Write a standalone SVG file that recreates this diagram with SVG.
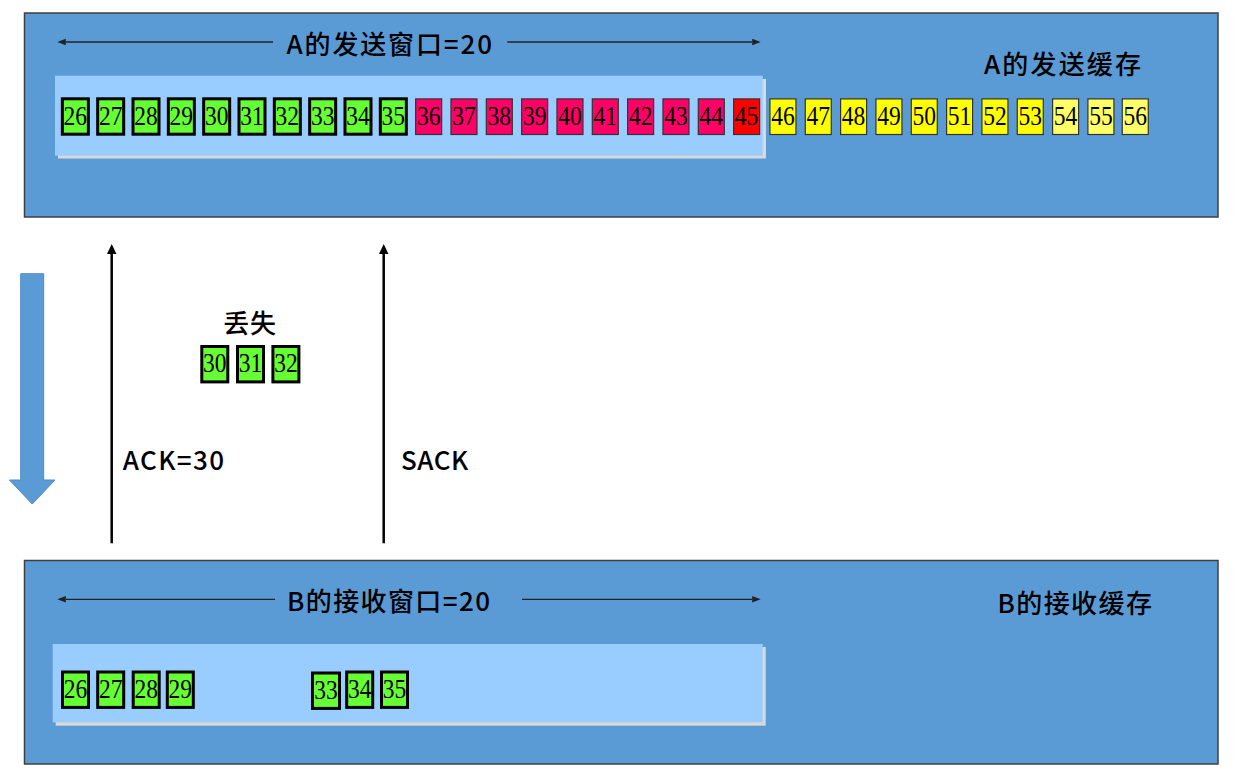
<svg xmlns="http://www.w3.org/2000/svg" width="1241" height="774" viewBox="0 0 1241 774">
<style>
.outer{fill:#5b9bd5;stroke:#3f3f3f;stroke-width:1.5}
.inner{fill:#99ccff}
.shadow{fill:#d9d9d9}
.g rect{fill:#66ff33;stroke:#000;stroke-width:3}
.p rect{fill:#ff0066;stroke:#333;stroke-width:1.2}
.r rect{fill:#ff0000;stroke:#333;stroke-width:1.2}
.y rect{fill:#ffff00;stroke:#333;stroke-width:1.2}
.ly rect{fill:#ffff66;stroke:#333;stroke-width:1.2}
.num{font-family:"Liberation Serif","Times New Roman",serif;font-size:27px;fill:#000;text-anchor:middle}
.lbl{font-family:"Noto Sans CJK SC","Noto Sans",sans-serif;font-size:26px;font-weight:500;fill:#000}
.thin{stroke:#222;stroke-width:1.3;fill:none}
.thick{stroke:#000;stroke-width:2.5;fill:none}
</style>
<defs>
<marker id="ah" markerUnits="userSpaceOnUse" markerWidth="9" markerHeight="7" refX="0" refY="3.25" orient="auto">
<path d="M0,0 L8.5,3.25 L0,6.5 z" fill="#222"/>
</marker>
<marker id="ahb" markerUnits="userSpaceOnUse" markerWidth="11" markerHeight="10" refX="0" refY="4.75" orient="auto">
<path d="M0,0 L10,4.75 L0,9.5 z" fill="#000"/>
</marker>
</defs>
<rect width="1241" height="774" fill="#ffffff"/>

<g id="bufferA">
<rect class="outer" x="24.5" y="13" width="1193.5" height="204"/>
<rect class="shadow" x="58" y="79" width="708" height="79.5"/>
<rect class="inner" x="55" y="75.7" width="707.7" height="80"/>
<text class="lbl" x="286.5" y="53.5" textLength="205.5" lengthAdjust="spacing">A的发送窗口=20</text>
<text class="lbl" x="984" y="73.5" textLength="157" lengthAdjust="spacing">A的发送缓存</text>
</g>

<g id="segA">
<g id="a26" class="g"><rect x="62.35" y="98.8" width="26" height="35.4"/><text class="num" x="75.35" y="125" textLength="23.5" lengthAdjust="spacingAndGlyphs">26</text></g>
<g id="a27" class="g"><rect x="97.68" y="98.8" width="26" height="35.4"/><text class="num" x="110.68" y="125" textLength="23.5" lengthAdjust="spacingAndGlyphs">27</text></g>
<g id="a28" class="g"><rect x="133.01" y="98.8" width="26" height="35.4"/><text class="num" x="146.01" y="125" textLength="23.5" lengthAdjust="spacingAndGlyphs">28</text></g>
<g id="a29" class="g"><rect x="168.34" y="98.8" width="26" height="35.4"/><text class="num" x="181.34" y="125" textLength="23.5" lengthAdjust="spacingAndGlyphs">29</text></g>
<g id="a30" class="g"><rect x="203.67" y="98.8" width="26" height="35.4"/><text class="num" x="216.67" y="125" textLength="23.5" lengthAdjust="spacingAndGlyphs">30</text></g>
<g id="a31" class="g"><rect x="239" y="98.8" width="26" height="35.4"/><text class="num" x="252" y="125" textLength="23.5" lengthAdjust="spacingAndGlyphs">31</text></g>
<g id="a32" class="g"><rect x="274.33" y="98.8" width="26" height="35.4"/><text class="num" x="287.33" y="125" textLength="23.5" lengthAdjust="spacingAndGlyphs">32</text></g>
<g id="a33" class="g"><rect x="309.66" y="98.8" width="26" height="35.4"/><text class="num" x="322.66" y="125" textLength="23.5" lengthAdjust="spacingAndGlyphs">33</text></g>
<g id="a34" class="g"><rect x="344.99" y="98.8" width="26" height="35.4"/><text class="num" x="357.99" y="125" textLength="23.5" lengthAdjust="spacingAndGlyphs">34</text></g>
<g id="a35" class="g"><rect x="380.32" y="98.8" width="26" height="35.4"/><text class="num" x="393.32" y="125" textLength="23.5" lengthAdjust="spacingAndGlyphs">35</text></g>
<g id="a36" class="p"><rect x="415.65" y="98.9" width="26" height="35.6"/><text class="num" x="428.65" y="125" textLength="23.5" lengthAdjust="spacingAndGlyphs">36</text></g>
<g id="a37" class="p"><rect x="450.98" y="98.9" width="26" height="35.6"/><text class="num" x="463.98" y="125" textLength="23.5" lengthAdjust="spacingAndGlyphs">37</text></g>
<g id="a38" class="p"><rect x="486.31" y="98.9" width="26" height="35.6"/><text class="num" x="499.31" y="125" textLength="23.5" lengthAdjust="spacingAndGlyphs">38</text></g>
<g id="a39" class="p"><rect x="521.64" y="98.9" width="26" height="35.6"/><text class="num" x="534.64" y="125" textLength="23.5" lengthAdjust="spacingAndGlyphs">39</text></g>
<g id="a40" class="p"><rect x="556.97" y="98.9" width="26" height="35.6"/><text class="num" x="569.97" y="125" textLength="23.5" lengthAdjust="spacingAndGlyphs">40</text></g>
<g id="a41" class="p"><rect x="592.3" y="98.9" width="26" height="35.6"/><text class="num" x="605.3" y="125" textLength="23.5" lengthAdjust="spacingAndGlyphs">41</text></g>
<g id="a42" class="p"><rect x="627.63" y="98.9" width="26" height="35.6"/><text class="num" x="640.63" y="125" textLength="23.5" lengthAdjust="spacingAndGlyphs">42</text></g>
<g id="a43" class="p"><rect x="662.96" y="98.9" width="26" height="35.6"/><text class="num" x="675.96" y="125" textLength="23.5" lengthAdjust="spacingAndGlyphs">43</text></g>
<g id="a44" class="p"><rect x="698.29" y="98.9" width="26" height="35.6"/><text class="num" x="711.29" y="125" textLength="23.5" lengthAdjust="spacingAndGlyphs">44</text></g>
<g id="a45" class="r"><rect x="733.62" y="98.9" width="26" height="35.6"/><text class="num" x="746.62" y="125" textLength="23.5" lengthAdjust="spacingAndGlyphs">45</text></g>
<g id="a46" class="y"><rect x="769.95" y="98.9" width="26" height="35.6"/><text class="num" x="782.95" y="125" textLength="23.5" lengthAdjust="spacingAndGlyphs">46</text></g>
<g id="a47" class="y"><rect x="805.28" y="98.9" width="26" height="35.6"/><text class="num" x="818.28" y="125" textLength="23.5" lengthAdjust="spacingAndGlyphs">47</text></g>
<g id="a48" class="y"><rect x="840.61" y="98.9" width="26" height="35.6"/><text class="num" x="853.61" y="125" textLength="23.5" lengthAdjust="spacingAndGlyphs">48</text></g>
<g id="a49" class="y"><rect x="875.94" y="98.9" width="26" height="35.6"/><text class="num" x="888.94" y="125" textLength="23.5" lengthAdjust="spacingAndGlyphs">49</text></g>
<g id="a50" class="y"><rect x="911.27" y="98.9" width="26" height="35.6"/><text class="num" x="924.27" y="125" textLength="23.5" lengthAdjust="spacingAndGlyphs">50</text></g>
<g id="a51" class="y"><rect x="946.6" y="98.9" width="26" height="35.6"/><text class="num" x="959.6" y="125" textLength="23.5" lengthAdjust="spacingAndGlyphs">51</text></g>
<g id="a52" class="y"><rect x="981.93" y="98.9" width="26" height="35.6"/><text class="num" x="994.93" y="125" textLength="23.5" lengthAdjust="spacingAndGlyphs">52</text></g>
<g id="a53" class="y"><rect x="1017.26" y="98.9" width="26" height="35.6"/><text class="num" x="1030.26" y="125" textLength="23.5" lengthAdjust="spacingAndGlyphs">53</text></g>
<g id="a54" class="ly"><rect x="1052.59" y="98.9" width="26" height="35.6"/><text class="num" x="1065.59" y="125" textLength="23.5" lengthAdjust="spacingAndGlyphs">54</text></g>
<g id="a55" class="ly"><rect x="1087.92" y="98.9" width="26" height="35.6"/><text class="num" x="1100.92" y="125" textLength="23.5" lengthAdjust="spacingAndGlyphs">55</text></g>
<g id="a56" class="ly"><rect x="1122.25" y="98.9" width="26" height="35.6"/><text class="num" x="1135.25" y="125" textLength="23.5" lengthAdjust="spacingAndGlyphs">56</text></g>
</g>

<g id="timeArrow">
<path d="M20.7,273.7 L43.7,273.7 L43.7,480 L55,480 L32.2,504 L9.4,480 L20.7,480 Z" fill="#5b9bd5" stroke="#4f8cc6" stroke-width="1"/>
</g>

<g id="lost">
<text class="lbl" x="223.3" y="333" textLength="52.7" lengthAdjust="spacing">丢失</text>
<g id="l30" class="g"><rect x="201.8" y="346.5" width="26" height="35.4"/><text class="num" x="214.8" y="372" textLength="23.5" lengthAdjust="spacingAndGlyphs">30</text></g>
<g id="l31" class="g"><rect x="237.5" y="346.5" width="26" height="35.4"/><text class="num" x="250.5" y="372" textLength="23.5" lengthAdjust="spacingAndGlyphs">31</text></g>
<g id="l32" class="g"><rect x="272.9" y="346.5" width="26" height="35.4"/><text class="num" x="285.9" y="372" textLength="23.5" lengthAdjust="spacingAndGlyphs">32</text></g>
</g>

<g id="labels">
<text class="lbl" x="122.7" y="470" textLength="101.3" lengthAdjust="spacing">ACK=30</text>
<text class="lbl" x="401" y="470" textLength="67.3" lengthAdjust="spacing">SACK</text>
</g>

<g id="bufferB">
<rect class="outer" x="24.5" y="560.5" width="1193.5" height="203.5"/>
<rect class="shadow" x="55.7" y="647" width="710" height="78.7"/>
<rect class="inner" x="52.7" y="644" width="710" height="78.3"/>
<text class="lbl" x="287" y="611" textLength="203" lengthAdjust="spacing">B的接收窗口=20</text>
<text class="lbl" x="997.5" y="613" textLength="154.5" lengthAdjust="spacing">B的接收缓存</text>
</g>

<g id="segB">
<g id="b26" class="g"><rect x="62.5" y="672" width="26" height="35.4"/><text class="num" x="75.5" y="698" textLength="23.5" lengthAdjust="spacingAndGlyphs">26</text></g>
<g id="b27" class="g"><rect x="97.7" y="672" width="26" height="35.4"/><text class="num" x="110.7" y="698" textLength="23.5" lengthAdjust="spacingAndGlyphs">27</text></g>
<g id="b28" class="g"><rect x="133.2" y="672" width="26" height="35.4"/><text class="num" x="146.2" y="698" textLength="23.5" lengthAdjust="spacingAndGlyphs">28</text></g>
<g id="b29" class="g"><rect x="167.3" y="672" width="26" height="35.4"/><text class="num" x="180.3" y="698" textLength="23.5" lengthAdjust="spacingAndGlyphs">29</text></g>
<g id="b33" class="g"><rect x="312.5" y="673" width="27" height="35.4"/><text class="num" x="326" y="699" textLength="23.5" lengthAdjust="spacingAndGlyphs">33</text></g>
<g id="b34" class="g"><rect x="346.7" y="672" width="26" height="35.4"/><text class="num" x="359.7" y="698" textLength="23.5" lengthAdjust="spacingAndGlyphs">34</text></g>
<g id="b35" class="g"><rect x="381.5" y="672" width="26" height="35.4"/><text class="num" x="394.5" y="698" textLength="23.5" lengthAdjust="spacingAndGlyphs">35</text></g>
</g>

<g id="connectors">
<line class="thin" x1="273" y1="42" x2="65.8" y2="42" marker-end="url(#ah)"/>
<line class="thin" x1="507.3" y1="42" x2="752.2" y2="42" marker-end="url(#ah)"/>
<line class="thin" x1="275" y1="599.3" x2="65.8" y2="599.3" marker-end="url(#ah)"/>
<line class="thin" x1="522" y1="599.3" x2="752.2" y2="599.3" marker-end="url(#ah)"/>
<line class="thick" x1="111.7" y1="543.3" x2="111.7" y2="254" marker-end="url(#ahb)"/>
<line class="thick" x1="383.7" y1="543.3" x2="383.7" y2="254" marker-end="url(#ahb)"/>
</g>
</svg>
